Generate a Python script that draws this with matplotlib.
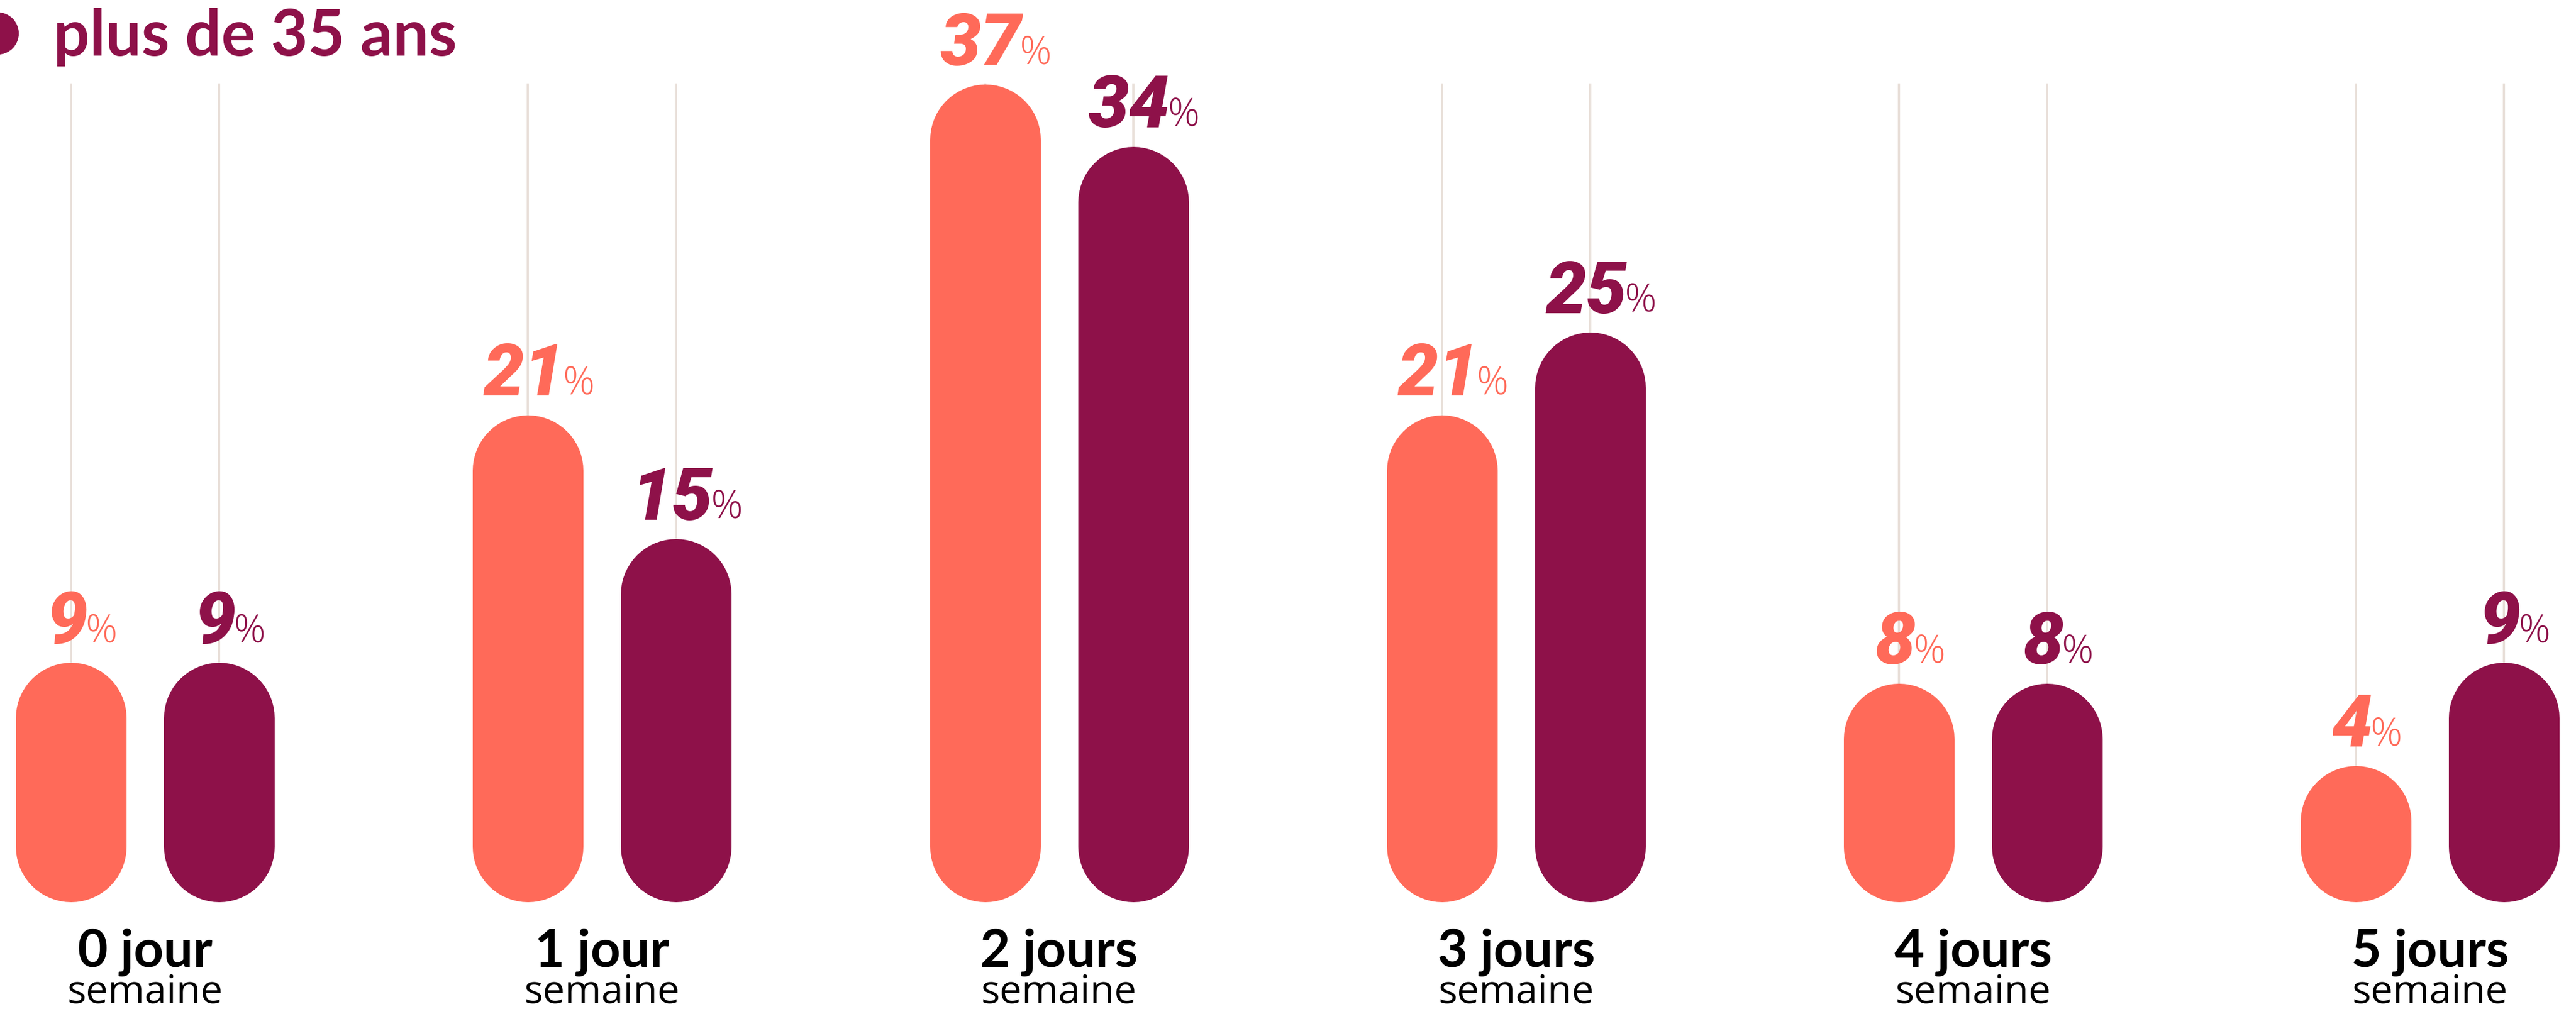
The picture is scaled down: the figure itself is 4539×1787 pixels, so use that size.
import matplotlib.pyplot as plt
from matplotlib.patches import Circle

# data
categories = ["0 jour", "1 jour", "2 jours", "3 jours", "4 jours", "5 jours"]
sub_label = "semaine"
moins_35 = [9, 21, 37, 21, 8, 4]
plus_35 = [9, 15, 34, 25, 8, 9]
legend_label = "plus de 35 ans"

ORANGE = "#ff6a59"
PURPLE = "#8e1149"
GRID = "#e9e0da"

W, H, DPI = 4539, 1787, 100
PX = 72 / DPI  # points per pixel

# geometry (pixels)
group_step = 805.3
first_group = 255.5
pair_off = 130.5
px_per_pct = 36.39
zero_px = 1592.9      # pixel row (from top) of value 0
bar_w = 195
cap = (bar_w / 2) / px_per_pct   # cap radius in data units
bar_floor = 2.76                 # centre of the bottom cap, in data units

fig = plt.figure(figsize=(W / DPI, H / DPI), dpi=DPI)
ax = fig.add_axes([0, 0, 1, 1])
ax.axis("off")
ax.set_xlim(-first_group / group_step, (W - first_group) / group_step)
ax.set_ylim((zero_px - H) / px_per_pct, zero_px / px_per_pct)

top = max(moins_35 + plus_35) + cap
dx = pair_off / group_step

num_size = 92
pct_size = 50

for i, cat in enumerate(categories):
    for vals, off, color in ((moins_35, -dx, ORANGE), (plus_35, dx, PURPLE)):
        x = i + off
        v = vals[i]
        ax.plot([x, x], [v, top], color=GRID, lw=4 * PX, zorder=1)
        ax.plot([x, x], [bar_floor, v], color=color, lw=bar_w * PX,
                solid_capstyle="round", zorder=3)
        t = ax.annotate(str(v), xy=(x, v), xytext=(-5, (bar_w / 2 + 34) * PX),
                        textcoords="offset points", ha="center", va="baseline",
                        color=color, fontfamily="Roboto", fontweight="black",
                        fontstyle="italic", fontsize=num_size, zorder=4)
        ax.annotate("%", xy=(1, 0), xycoords=t,
                    xytext=(-3, 0.21 * (num_size - pct_size)),
                    textcoords="offset points", ha="left", va="bottom",
                    color=color, fontfamily="Open Sans", fontweight="light",
                    fontsize=pct_size, zorder=4)

    ax.text(i, (H - 1704) / H, cat, transform=ax.get_xaxis_transform(),
            ha="center", va="baseline", fontsize=66, fontweight="bold",
            fontfamily="Lato", color="black")
    ax.text(i, (H - 1785) / H, sub_label, transform=ax.get_xaxis_transform(),
            ha="center", va="bottom", fontsize=50,
            fontfamily="Open Sans", color="black")

# legend (top left, circle partly cut by the edge)
fig.patches.append(Circle((-4 / DPI, (H - 59) / DPI), 36.5 / DPI,
                          transform=fig.dpi_scale_trans, color=PURPLE))
fig.text(94 / DPI, (H - 98) / DPI, legend_label, transform=fig.dpi_scale_trans,
         ha="left", va="baseline", fontsize=81, fontweight="bold",
         fontfamily="Lato", color=PURPLE)

fig.savefig("out.png", dpi=DPI, facecolor="white")
